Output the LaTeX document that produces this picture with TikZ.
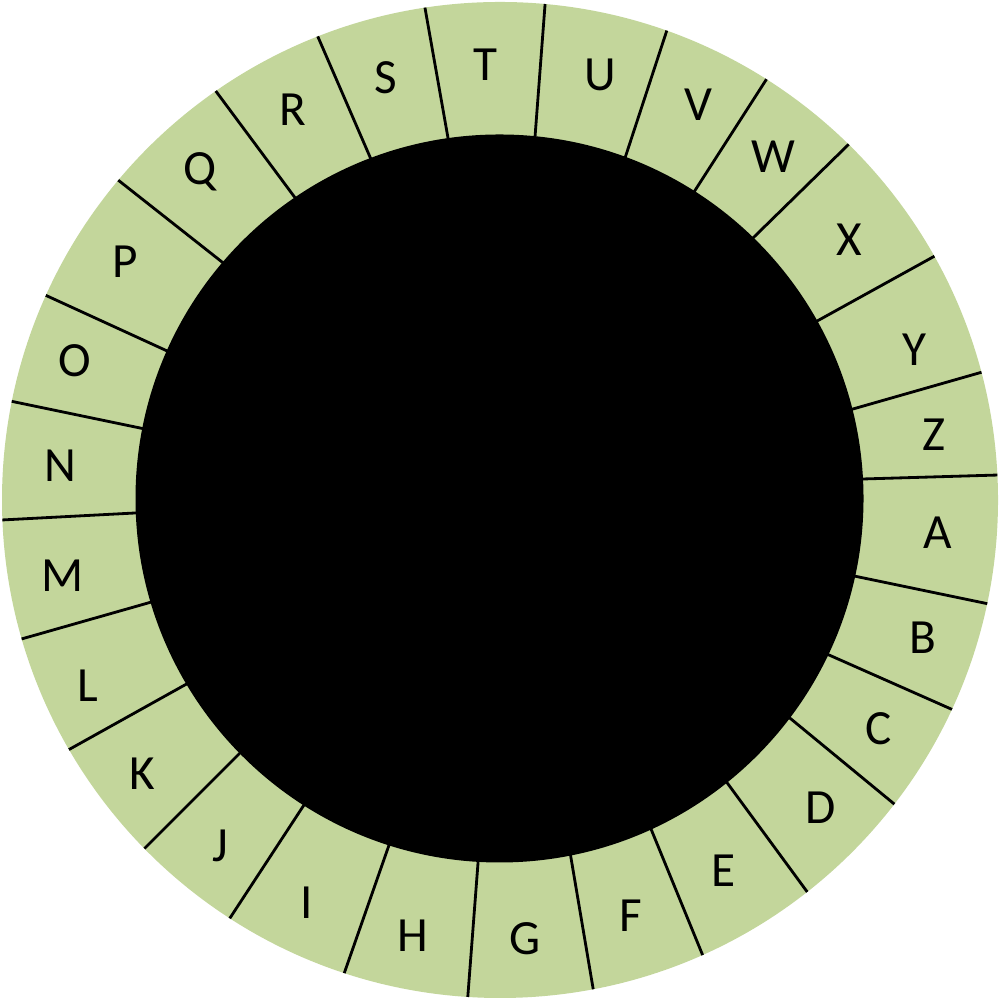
\documentclass[tikz,border=0pt]{standalone}
\usepackage{fontspec}
\setmainfont{Carlito}
\usepackage{tikz}
\definecolor{ringgreen}{HTML}{C3D69B}

\begin{document}
\begin{tikzpicture}[x=1cm, y=1cm,
letter/.style={font=\fontsize{14}{16}\selectfont, inner sep=0pt},
divider/.style={line width=0.8pt, shorten <=-0.15cm, shorten >=-0.15cm}]
\useasboundingbox (0,0) rectangle (10,10);
\coordinate (c) at (5,5);
\fill [ringgreen] (c) circle (4.98);
% dividers between the segments, inner end -> outer end
\begin{scope}
\clip (c) circle (4.98);
\foreach \n/\xa/\ya/\xb/\yb in {
  ZA/8.63/5.21/9.99/5.25, AB/8.54/4.24/9.84/3.97, BC/8.29/3.45/9.51/2.91,
  CD/7.91/2.81/8.93/1.97, DE/7.28/2.16/8.08/1.07, EF/6.51/1.71/7.03/0.44,
  FG/5.71/1.42/5.93/0.12, GH/4.78/1.37/4.68/0.06, HI/3.88/1.52/3.45/0.29,
  IJ/3.02/1.92/2.30/0.82, JK/2.37/2.44/1.45/1.52, KL/1.83/3.14/0.70/2.51,
  LM/1.48/3.97/0.25/3.62, MN/1.35/4.87/0.02/4.80, NO/1.40/5.72/0.10/5.99,
  OP/1.65/6.50/0.45/7.05, PQ/2.22/7.38/1.18/8.20, QR/2.93/8.05/2.15/9.10,
  RS/3.70/8.43/3.18/9.63, ST/4.48/8.62/4.25/9.92, TU/5.35/8.63/5.45/9.95,
  UV/6.26/8.45/6.66/9.67, VW/6.94/8.08/7.66/9.20, WX/7.54/7.63/8.48/8.55,
  XY/8.19/6.80/9.33/7.43, YZ/8.53/5.91/9.79/6.27} {
  \coordinate (in_\n) at (\xa,\ya);
  \coordinate (out_\n) at (\xb,\yb);
  \draw [divider] (in_\n) -- (out_\n);
}
\end{scope}
\fill [black] (4.995,5.015) circle (3.64);
% letters
\foreach \l/\x/\y in {
  A/9.38/4.67, B/9.23/3.62, C/8.79/2.71, D/8.21/1.92, E/7.23/1.29,
  F/6.31/0.84, G/5.25/0.61, H/4.13/0.64, I/3.07/0.97, J/2.20/1.54,
  K/1.42/2.26, L/0.88/3.14, M/0.63/4.24, N/0.60/5.34, O/0.75/6.39,
  P/1.25/7.38, Q/2.00/8.28, R/2.93/8.90, S/3.86/9.22, T/4.85/9.35,
  U/6.00/9.25, V/6.98/8.95, W/7.73/8.43, X/8.49/7.60, Y/9.14/6.50,
  Z/9.34/5.65}
  \node [letter] (\l) at (\x,\y) {\l};
\end{tikzpicture}
\end{document}
